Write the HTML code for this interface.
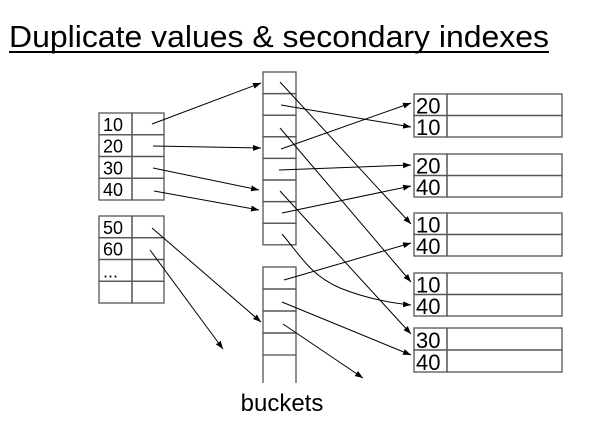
<!DOCTYPE html>
<html><head><meta charset="utf-8"><style>
html,body{margin:0;padding:0;background:#fff;}
svg{display:block;font-family:"Liberation Sans","DejaVu Sans",sans-serif;}
</style></head><body>
<svg width="611" height="428" viewBox="0 0 611 428">
<defs><marker id="ah" markerWidth="8" markerHeight="6" refX="8" refY="3" orient="auto" markerUnits="userSpaceOnUse"><path d="M0,0 L8,3 L0,6 z" fill="#000"/></marker></defs>
<g>
<text x="9" y="47" font-size="31" textLength="540" lengthAdjust="spacingAndGlyphs" fill="#000">Duplicate values &amp; secondary indexes</text>
<line x1="9" y1="52" x2="549" y2="52" stroke="#000" stroke-width="2"/>
</g>
<g id="tables" stroke="#555" stroke-width="1.3" fill="none"></g>
<g id="arrows" stroke="#000" stroke-width="1" fill="none"></g>
<g id="labels" fill="#000"></g>
<text x="282" y="411" font-size="24" text-anchor="middle">buckets</text>
</svg>
<script>
const NS="http://www.w3.org/2000/svg";
const T=document.getElementById('tables'),A=document.getElementById('arrows'),L=document.getElementById('labels');
function mk(tag,at,par){const e=document.createElementNS(NS,tag);for(const k in at)e.setAttribute(k,at[k]);par.appendChild(e);return e;}
function rect(x,y,w,h,name){const r=mk('rect',{x:x,y:y,width:w,height:h},T);

}
function label(x,y,t,fs,name){const e=mk('text',{x:x,y:y,'font-size':fs},L);e.textContent=t;

}
const idx1=["10","20","30","40"], idx2=["50","60","...",""];
function idxTable(vals,top,h){vals.forEach((v,i)=>{const y=top+i*h;rect(99,y,33,h,'index-key-cell');rect(132,y,32,h,'index-pointer-cell');if(v)label(103,y+h-4,v,18,'index-key-'+v);});}
idxTable(idx1,113,21.75);idxTable(idx2,216,21.75);
for(let i=0;i<8;i++)rect(263,72+i*21.6,33,21.6,'bucket-1-cell');
for(let i=0;i<4;i++)rect(263,267+i*22,33,22,'bucket-2-cell');
mk('line',{x1:263,y1:355,x2:263,y2:383},T);mk('line',{x1:296,y1:355,x2:296,y2:383},T);
const recTops=[94,154,213,273,328];const recKeys=[["20","10"],["20","40"],["10","40"],["10","40"],["30","40"]];
recTops.forEach((t,g)=>{const h=(g==4?22:21.5);recKeys[g].forEach((k,j)=>{const y=t+j*h;rect(414,y,33,h,'record-key-cell');rect(447,y,115,h,'record-data-cell');label(416,y+h-2,k,22,'record-key-'+k);});});
const arrows=[[152,124,261,83],[153,146,261,148],[153,168,259,190],[154,191,259,210],[152,228,261,322],[150,250,223,349],
[280,82,411,224],[281,105,411,127],[280,128,411,282],[281,149,411,103],[279,170,411,165],[280,191,411,334],[282,213,411,186],
[284,280,411,243],[282,302,411,355],[283,324,363,378]];
arrows.forEach(a=>{const l=mk('line',{x1:a[0],y1:a[1],x2:a[2],y2:a[3],'marker-end':'url(#ah)'},A);

});
const c=mk('path',{d:'M282,234 C300,255 310,275 340,288 C365,298 390,303 411,305','marker-end':'url(#ah)'},A);


</script>
</body></html>
